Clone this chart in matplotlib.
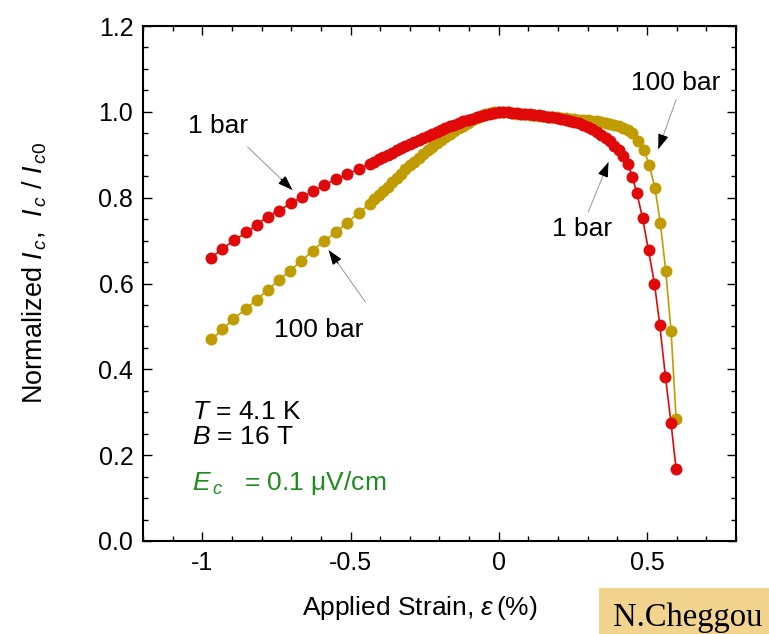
"""
Critical current vs applied strain at 1 bar and 100 bar (T = 4.1 K, B = 16 T).
Recreated with matplotlib.
"""
import matplotlib
matplotlib.use("Agg")
import matplotlib.pyplot as plt
from matplotlib.ticker import MultipleLocator, FixedLocator
from matplotlib.patches import Rectangle

# ------------------------------------------------------------------------------
# Data
# ------------------------------------------------------------------------------
strain_1bar = [
    -0.972, -0.934, -0.892, -0.851, -0.816, -0.780, -0.741, -0.701, -0.663,
    -0.625, -0.589, -0.549, -0.511, -0.471,
    -0.435, -0.420, -0.405, -0.390, -0.375, -0.360, -0.345, -0.330, -0.315,
    -0.300, -0.285, -0.270, -0.255, -0.240, -0.225, -0.210, -0.195, -0.180,
    -0.165, -0.150, -0.135, -0.120, -0.105, -0.090, -0.075, -0.060, -0.045,
    -0.030, -0.015, 0.000, 0.015, 0.030, 0.045, 0.060, 0.075, 0.090, 0.105,
    0.120, 0.135, 0.150, 0.165, 0.180, 0.195, 0.210, 0.225, 0.240, 0.255,
    0.270, 0.285, 0.300, 0.315, 0.330, 0.345, 0.360, 0.375, 0.390, 0.405,
    0.418, 0.436, 0.450, 0.466, 0.485, 0.505, 0.525, 0.543, 0.562, 0.581,
    0.598,
]
ic_1bar = [
    0.659, 0.680, 0.701, 0.719, 0.737, 0.756, 0.770, 0.787, 0.802,
    0.815, 0.829, 0.843, 0.855, 0.867,
    0.879, 0.884, 0.889, 0.894, 0.899, 0.904, 0.910, 0.915, 0.920,
    0.925, 0.930, 0.935, 0.940, 0.944, 0.949, 0.954, 0.958, 0.962,
    0.966, 0.970, 0.974, 0.978, 0.981, 0.984, 0.987, 0.990, 0.993,
    0.996, 0.998, 1.000, 1.000, 0.999, 0.998, 0.997, 0.996, 0.995, 0.994,
    0.993, 0.992, 0.991, 0.989, 0.988, 0.986, 0.984, 0.982, 0.979, 0.976,
    0.973, 0.969, 0.965, 0.960, 0.954, 0.947, 0.939, 0.931, 0.921, 0.910,
    0.897, 0.878, 0.849, 0.810, 0.752, 0.677, 0.600, 0.503, 0.383, 0.274,
    0.167,
]

strain_100bar = [
    -0.969, -0.932, -0.895, -0.854, -0.817, -0.779, -0.742, -0.704, -0.666,
    -0.628, -0.590, -0.550, -0.511, -0.472,
    -0.435, -0.420, -0.405, -0.390, -0.375, -0.360, -0.345, -0.330, -0.315,
    -0.300, -0.285, -0.270, -0.255, -0.240, -0.225, -0.210, -0.195, -0.180,
    -0.165, -0.150, -0.135, -0.120, -0.105, -0.090, -0.075, -0.060, -0.045,
    -0.030, -0.015, 0.000, 0.015, 0.030, 0.045, 0.060, 0.075, 0.090, 0.105,
    0.120, 0.135, 0.150, 0.165, 0.180, 0.195, 0.210, 0.225, 0.240, 0.255,
    0.270, 0.285, 0.300, 0.315, 0.330, 0.345, 0.360, 0.375, 0.390, 0.405,
    0.420, 0.435, 0.450, 0.468, 0.490, 0.507, 0.527, 0.545, 0.563, 0.581,
    0.598,
]
ic_100bar = [
    0.470, 0.493, 0.518, 0.540, 0.562, 0.585, 0.608, 0.630, 0.652,
    0.676, 0.699, 0.719, 0.742, 0.765,
    0.785, 0.796, 0.806, 0.816, 0.826, 0.836, 0.846, 0.856, 0.866,
    0.875, 0.884, 0.893, 0.902, 0.911, 0.919, 0.927, 0.935, 0.942,
    0.949, 0.956, 0.962, 0.968, 0.974, 0.980, 0.985, 0.990, 0.994,
    0.997, 0.999, 1.000, 1.000, 0.999, 0.997, 0.996, 0.995, 0.994, 0.993,
    0.992, 0.991, 0.990, 0.989, 0.988, 0.987, 0.986, 0.985, 0.984, 0.983,
    0.982, 0.981, 0.980, 0.979, 0.978, 0.976, 0.974, 0.972, 0.970, 0.966,
    0.962, 0.957, 0.950, 0.932, 0.911, 0.877, 0.822, 0.740, 0.630, 0.489,
    0.285,
]

x_ticks = [-1, -0.5, 0, 0.5]
x_tick_labels = ["-1", "-0.5", "0", "0.5"]
y_ticks = [0.0, 0.2, 0.4, 0.6, 0.8, 1.0, 1.2]
y_tick_labels = ["0.0", "0.2", "0.4", "0.6", "0.8", "1.0", "1.2"]

RED = "#e00808"
GOLD = "#c09c00"
GREEN = "#1e8c1e"

# ------------------------------------------------------------------------------
# Style
# ------------------------------------------------------------------------------
plt.rcParams["font.family"] = ["Liberation Sans", "DejaVu Sans"]
plt.rcParams["mathtext.fontset"] = "custom"
plt.rcParams["mathtext.rm"] = "Liberation Sans"
plt.rcParams["mathtext.it"] = "Liberation Sans:italic"
plt.rcParams["axes.unicode_minus"] = False

FS = 18

fig = plt.figure(figsize=(7.69, 6.34), dpi=100)
ax = fig.add_axes([143 / 769, 1 - 541 / 634, 593 / 769, 515 / 634])

ax.plot(strain_100bar, ic_100bar, "-o", color=GOLD, lw=1.2, ms=8.6,
        mec="none", zorder=3)
ax.plot(strain_1bar, ic_1bar, "-o", color=RED, lw=1.2, ms=8.6,
        mec="none", zorder=4)

ax.set_xlim(-1.2, 0.8)
ax.set_ylim(0, 1.2)
ax.xaxis.set_major_locator(FixedLocator(x_ticks))
ax.set_xticklabels(x_tick_labels)
ax.xaxis.set_minor_locator(MultipleLocator(0.1))
ax.yaxis.set_major_locator(FixedLocator(y_ticks))
ax.set_yticklabels(y_tick_labels)
ax.yaxis.set_minor_locator(MultipleLocator(0.05))

ax.tick_params(which="both", direction="in", top=True, right=True,
               width=1.0, labelsize=FS)
ax.tick_params(which="major", length=6.5, pad=7)
ax.tick_params(which="minor", length=3.4)
for sp in ax.spines.values():
    sp.set_linewidth(1.5)

ax.set_ylabel(r"Normalized $I_{\,c}$,  $I_{\,c}$ / $I_{\,c0}$", fontsize=19.5)
ax.yaxis.set_label_coords(-0.158, 0.52)
ax.set_xlabel(r"Applied Strain, $\varepsilon\,$(%)", fontsize=19)
ax.xaxis.set_label_coords(0.467, -0.102)

# ------------------------------------------------------------------------------
# Annotations (label, text pos, arrow start, arrow tip)
# ------------------------------------------------------------------------------
notes = [
    ("1 bar", (-0.948, 0.967), (-0.847, 0.918), (-0.696, 0.818)),
    ("100 bar", (-0.607, 0.492), (-0.450, 0.557), (-0.574, 0.678)),
    ("1 bar", (0.282, 0.727), (0.302, 0.767), (0.370, 0.883)),
    ("100 bar", (0.595, 1.067), (0.598, 1.028), (0.538, 0.913)),
]
for label, tpos, start, tip in notes:
    ax.text(*tpos, label, fontsize=FS + 1, ha="center", va="center")
    ax.annotate("", xy=tip, xytext=start,
                arrowprops=dict(arrowstyle="-", color="#a0a0a0", lw=0.8,
                                shrinkA=0, shrinkB=0))
    # short black segment to carry the arrow head
    hx = start[0] + (tip[0] - start[0]) * 0.75
    hy = start[1] + (tip[1] - start[1]) * 0.75
    ax.annotate("", xy=tip, xytext=(hx, hy),
                arrowprops=dict(arrowstyle="-|>,head_length=0.9,head_width=0.32",
                                color="black", lw=0.8, shrinkA=0, shrinkB=0))

ax.text(-1.035, 0.301, r"$T$ = 4.1 K", fontsize=FS + 1, va="center")
ax.text(-1.035, 0.242, r"$B$ = 16 T", fontsize=FS + 1, va="center")
ax.text(-1.035, 0.119, r"$E_{\,c}$   = 0.1 μV/cm", fontsize=FS + 1,
        va="baseline", color=GREEN)

# source tag, bottom right
fig.patches.append(Rectangle((599 / 769, 0), 170 / 769, 46 / 634,
                             transform=fig.transFigure, facecolor="#f2d48e",
                             edgecolor="none", zorder=0))
fig.text(613 / 769, 8 / 634, "N.Cheggou", fontsize=23.5,
         family=["Liberation Serif", "DejaVu Serif"], va="baseline")

fig.savefig("out.png", dpi=100)
